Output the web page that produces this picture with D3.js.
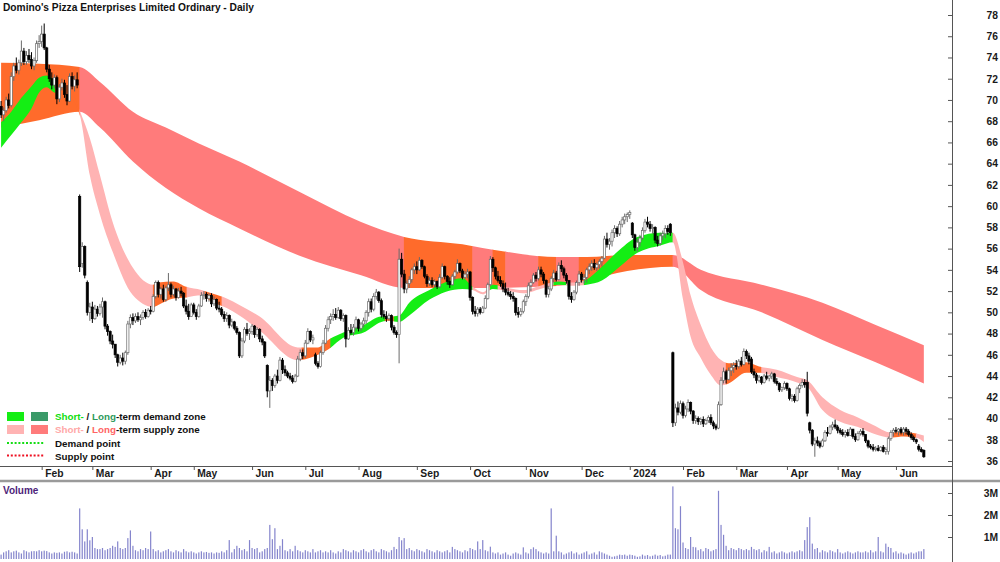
<!DOCTYPE html>
<html><head><meta charset="utf-8">
<script src="https://cdn.jsdelivr.net/npm/d3@7"></script>
<style>body{margin:0;background:#fff}svg{display:block;font-family:"Liberation Sans",Arial,sans-serif}</style>
</head><body><svg id="c" width="1000" height="562"></svg>
<script>
const titleText = "Domino's Pizza Enterprises Limited Ordinary - Daily";
const startDate = "2023-01-09";
const holidays = ["2023-01-26","2023-04-07","2023-04-10","2023-04-25","2023-06-12","2023-12-25","2023-12-26","2024-01-01","2024-01-26","2024-03-29","2024-04-01","2024-04-25","2024-06-10"];
const monthNames = ["Jan","Feb","Mar","Apr","May","Jun","Jul","Aug","Sep","Oct","Nov","Dec"];
const priceTicks = [36,38,40,42,44,46,48,50,52,54,56,58,60,62,64,66,68,70,72,74,76,78];
const volumeTicks = [1,2,3];
// [open, high, low, close]
const ohlc = [
[69.4,69.9,68.3,68.6],[68.6,69.3,68.0,69.0],[69.0,70.3,68.8,70.0],[70.0,70.6,69.2,69.5],[69.5,72.6,69.3,72.2],
[72.2,73.5,71.8,73.2],[73.2,74.0,72.5,72.8],[72.8,73.8,72.4,73.5],[73.5,75.6,73.2,74.6],[74.6,74.9,73.3,73.6],
[73.6,74.6,73.3,74.2],[74.2,74.8,73.5,73.8],[73.8,74.5,72.9,73.2],[73.2,74.0,72.8,73.7],[73.7,75.6,73.5,75.3],
[75.3,76.1,74.9,75.5],[75.5,77.0,75.0,76.2],[76.2,77.2,74.7,74.9],[74.9,75.0,72.6,72.9],[72.9,73.3,71.7,72.0],
[72.0,72.6,71.0,71.4],[71.4,72.4,71.1,72.1],[72.1,72.3,69.6,70.1],[70.1,71.5,69.8,71.2],[71.2,72.0,70.9,71.6],
[71.6,71.9,70.2,70.5],[70.5,71.4,69.5,69.9],[69.9,72.5,69.8,72.2],[72.2,72.6,71.0,71.3],[71.3,72.3,70.8,71.9],
[71.9,72.6,71.1,71.4],[60.9,61.1,53.8,54.3],[54.6,56.6,54.2,56.2],[56.2,56.3,53.2,53.5],[52.8,53.0,49.7,50.0],
[50.0,50.9,49.2,50.5],[50.5,51.0,49.0,49.4],[49.4,50.7,49.3,50.3],[50.3,50.6,49.6,49.9],[49.9,50.8,49.7,50.5],
[50.5,51.4,49.5,51.0],[51.0,51.1,48.4,48.7],[48.7,48.9,47.8,48.2],[48.2,48.3,47.0,47.3],[47.3,47.9,46.6,47.0],
[47.0,47.0,45.7,46.0],[46.0,46.1,44.9,45.3],[45.3,46.0,45.1,45.7],[45.7,46.2,45.0,45.4],[45.4,46.4,45.1,46.2],
[46.2,49.2,46.0,48.9],[48.9,49.8,48.5,49.5],[49.5,49.9,48.8,49.2],[49.2,49.9,49.0,49.6],[49.6,50.0,49.1,49.3],
[49.3,49.8,48.8,49.5],[49.5,50.2,49.3,50.0],[50.0,50.3,49.4,49.6],[49.6,50.4,49.5,50.2],[50.2,50.6,49.8,50.1],
[50.1,51.7,50.0,51.5],[51.5,53.0,51.3,52.8],[52.8,53.0,51.4,51.7],[51.7,52.4,51.3,52.2],[52.2,52.6,51.0,51.2],
[51.2,52.5,51.0,52.3],[52.3,53.7,52.0,52.6],[52.6,52.8,51.4,51.7],[51.7,52.5,51.5,52.2],[52.2,52.3,51.1,51.4],
[51.4,52.3,51.3,52.0],[52.0,52.4,51.5,51.8],[51.8,51.9,50.4,50.6],[50.6,51.2,49.8,50.1],[50.1,50.8,49.3,49.6],
[49.6,50.9,49.6,50.7],[50.7,50.9,49.8,50.0],[50.0,50.3,49.3,49.6],[49.6,50.8,49.5,50.6],[50.6,51.9,50.5,51.6],
[51.6,52.0,51.2,51.7],[51.7,51.9,51.0,51.3],[51.3,51.8,51.0,51.6],[51.6,51.8,50.5,50.8],[50.8,51.5,50.6,51.2],
[51.2,51.3,50.2,50.4],[50.4,51.0,50.0,50.3],[50.3,50.5,49.6,49.8],[49.8,50.1,49.1,49.4],[49.4,50.0,49.1,49.7],
[49.7,49.8,48.5,48.8],[48.8,49.4,48.6,49.1],[49.1,49.2,48.3,48.5],[48.5,48.7,47.9,48.1],[48.1,48.2,45.7,45.9],
[45.9,47.6,45.7,47.3],[47.3,48.6,47.1,48.4],[48.4,49.0,47.8,48.0],[48.0,48.5,47.4,48.2],[48.2,48.9,47.9,48.7],
[48.7,48.8,47.6,47.9],[47.9,48.6,47.7,48.4],[48.4,48.5,47.2,47.5],[47.5,47.8,46.9,47.2],[47.2,47.3,45.7,45.9],
[45.0,45.1,42.0,42.6],[42.6,44.0,41.0,43.6],[43.6,43.8,42.6,43.1],[43.1,44.2,42.9,44.0],[44.0,44.6,43.3,43.6],
[43.6,45.8,43.5,45.5],[45.5,45.7,44.2,44.6],[44.6,45.0,44.0,44.3],[44.3,44.5,43.8,44.0],[44.0,44.3,43.6,43.8],
[43.8,44.1,43.3,43.5],[43.5,44.2,43.4,44.0],[44.0,45.9,43.9,45.6],[45.6,46.5,45.4,46.2],[46.2,46.5,45.6,45.9],
[45.9,47.4,45.7,47.1],[47.1,48.5,47.0,48.2],[48.2,48.3,47.2,47.4],[47.4,47.9,47.0,47.6],[46.0,46.2,45.0,45.2],
[45.2,45.4,44.7,44.9],[44.9,46.4,44.8,46.2],[46.2,47.4,46.0,47.1],[47.1,48.8,47.0,48.5],[48.5,49.6,48.2,49.3],
[49.3,49.9,48.9,49.6],[49.6,50.3,49.2,49.8],[49.8,50.4,49.3,49.5],[49.5,50.5,49.4,50.2],[50.2,50.3,49.2,49.4],
[49.4,49.9,49.1,49.7],[49.7,49.8,46.7,47.5],[47.5,48.6,47.4,48.3],[48.3,48.9,47.9,48.1],[48.1,48.9,47.8,48.6],
[48.6,49.6,48.3,49.3],[49.3,49.4,48.2,48.5],[48.5,49.1,48.2,48.9],[48.9,49.5,48.6,49.2],[49.2,50.2,48.9,50.0],
[50.0,51.3,49.6,51.0],[51.0,51.3,50.0,50.3],[50.3,51.8,50.1,51.5],[51.5,52.2,51.2,51.9],[51.9,52.0,50.9,51.1],
[51.1,51.3,49.5,49.8],[49.8,50.2,49.4,49.6],[49.6,50.1,49.1,49.4],[49.4,49.9,49.2,49.7],[49.7,49.8,48.3,48.6],
[48.6,48.8,47.9,48.1],[48.1,48.3,47.6,47.9],[47.9,56.0,45.2,55.0],[55.0,55.6,53.3,53.6],[53.6,54.0,51.8,52.2],
[52.2,53.0,51.8,52.7],[52.7,53.4,52.3,53.1],[53.1,54.2,52.8,54.0],[54.0,54.6,53.6,54.3],[54.3,54.8,53.6,54.0],
[54.0,55.2,53.9,54.9],[54.9,55.0,54.1,54.3],[54.3,54.4,53.2,53.4],[53.4,53.6,52.4,52.7],[52.7,53.3,52.5,53.0],
[53.0,53.3,52.4,52.6],[52.6,53.1,52.3,52.9],[52.9,53.0,52.2,52.4],[52.4,53.6,52.3,53.3],[53.3,54.6,53.1,54.3],
[54.3,54.4,53.1,53.4],[53.4,53.5,52.6,52.9],[52.9,53.3,52.3,52.6],[52.6,53.6,52.5,53.4],[53.4,54.0,53.0,53.8],
[53.8,55.0,53.6,54.6],[54.6,54.7,53.7,53.9],[53.9,54.1,53.1,53.3],[53.3,53.9,53.1,53.6],[53.6,54.1,53.2,53.8],
[53.8,53.9,51.1,51.4],[51.4,51.5,49.8,50.1],[50.1,50.6,49.6,49.9],[49.9,50.5,49.6,50.3],[50.3,50.5,49.8,50.0],
[50.0,50.6,49.9,50.4],[50.4,51.6,50.3,51.3],[51.3,52.8,51.2,52.6],[52.6,55.3,52.5,55.0],[55.0,55.2,53.8,54.2],
[54.2,54.3,53.1,53.4],[53.4,53.9,52.8,53.0],[53.0,53.4,52.4,52.7],[52.7,53.0,51.9,52.2],[52.2,52.8,51.6,51.9],
[51.9,52.3,51.5,51.7],[51.7,52.0,51.2,51.5],[51.5,51.9,51.0,51.3],[51.3,51.4,49.7,50.0],[50.0,50.5,49.5,49.8],
[49.8,50.4,49.6,50.1],[50.1,51.2,49.9,51.0],[51.0,51.7,50.6,51.5],[51.5,52.8,51.3,52.5],[52.5,53.1,52.0,52.8],
[52.8,53.7,52.7,53.5],[53.5,53.8,52.9,53.2],[53.2,54.3,53.0,54.0],[54.0,54.3,53.3,53.6],[53.6,53.8,52.7,53.0],
[53.0,53.1,51.4,51.7],[51.7,52.5,51.4,52.2],[52.2,53.4,52.0,53.2],[53.2,54.0,52.8,53.7],[53.7,53.9,52.9,53.1],
[53.1,54.7,53.0,54.4],[54.4,54.9,53.8,54.1],[54.1,54.3,53.2,53.5],[53.5,53.7,52.7,53.0],[53.0,53.0,51.2,51.5],
[51.5,51.9,50.9,51.2],[51.2,52.1,51.1,51.9],[51.9,53.0,51.7,52.8],[52.8,53.9,52.5,53.6],[53.6,53.8,52.8,53.1],
[53.1,53.6,52.7,53.3],[53.3,54.2,52.8,54.0],[54.0,54.6,53.6,54.3],[54.3,54.9,53.9,54.6],[54.6,55.0,54.0,54.2],
[54.2,54.7,53.9,54.5],[54.5,55.0,54.1,54.8],[54.8,55.3,54.3,55.1],[55.1,57.2,55.0,56.9],[56.9,57.5,56.1,56.4],
[56.4,57.0,55.9,56.7],[56.7,57.8,56.2,57.5],[57.5,58.2,57.0,57.9],[57.9,58.1,57.1,57.4],[57.4,58.6,57.2,58.3],
[58.3,59.0,58.0,58.7],[58.7,59.3,58.3,59.0],[59.0,59.4,58.5,59.2],[59.2,59.6,58.8,59.4],[58.4,58.5,57.0,57.3],
[57.3,57.4,55.8,56.1],[56.1,56.9,55.7,56.6],[56.6,57.3,56.2,57.0],[57.0,58.0,56.8,57.7],[57.7,58.8,57.5,58.5],
[58.5,59.0,58.0,58.3],[58.3,58.6,57.6,57.9],[57.9,58.3,57.4,58.0],[58.0,58.1,56.5,56.8],[56.8,57.2,56.2,56.5],
[56.5,57.5,56.3,57.2],[57.2,57.7,56.8,57.4],[57.4,58.2,57.0,57.9],[57.9,58.2,57.3,57.6],[58.3,58.4,57.2,57.5],
[46.2,46.3,39.2,39.6],[39.6,41.4,39.3,41.0],[41.0,41.6,40.3,40.6],[40.6,41.7,40.4,41.4],[41.4,41.6,40.0,40.3],
[40.3,41.2,40.1,40.9],[40.9,41.8,40.6,41.5],[41.5,41.6,40.4,40.7],[40.7,40.8,39.5,39.8],[39.8,40.3,39.5,40.0],
[40.0,40.2,39.4,39.7],[39.7,40.1,39.4,39.9],[39.9,40.2,39.2,39.5],[39.5,40.0,39.4,39.8],[39.8,40.3,39.6,40.1],
[40.1,40.4,39.4,39.6],[39.6,39.8,39.0,39.3],[39.3,39.5,38.9,39.1],[39.1,41.6,39.0,41.3],[41.3,43.9,41.2,43.6],
[43.6,44.8,43.3,44.4],[44.4,44.6,43.3,43.7],[43.7,44.8,43.6,44.5],[44.5,45.2,44.0,44.8],[44.8,45.3,44.3,45.0],
[45.0,45.5,44.6,44.9],[44.9,45.6,44.7,45.4],[45.4,45.8,44.9,45.1],[45.1,46.6,45.0,46.3],[46.3,46.5,45.6,45.9],
[45.9,46.2,45.1,45.4],[45.6,45.8,44.2,44.4],[44.4,44.7,43.8,44.1],[44.1,44.3,43.3,43.6],[43.6,44.1,43.4,43.9],
[43.9,44.0,43.2,43.4],[43.4,44.2,43.3,44.0],[44.0,44.4,43.6,43.8],[43.8,44.1,43.5,44.0],[44.0,44.4,43.7,44.2],
[44.2,44.3,43.3,43.5],[43.5,43.8,43.1,43.3],[43.3,43.4,42.5,42.7],[42.7,43.0,42.5,42.9],[42.9,43.5,42.7,43.3],
[43.3,43.4,42.6,42.8],[42.8,42.9,41.7,41.9],[41.9,42.3,41.6,42.1],[42.1,42.3,41.5,41.7],[41.7,43.0,41.6,42.8],
[42.8,43.3,42.4,43.1],[43.1,43.7,42.9,43.4],[43.4,43.7,42.9,43.2],[43.4,44.4,40.2,40.5],[39.6,39.7,38.6,38.9],
[38.9,39.0,37.4,37.6],[37.6,38.2,36.4,37.9],[37.9,38.3,37.4,37.7],[37.7,37.9,37.2,37.4],[37.4,38.1,37.3,37.9],
[37.9,38.9,37.8,38.7],[38.7,39.2,38.3,38.6],[38.6,39.4,38.5,39.2],[39.2,39.7,38.9,39.4],[39.4,39.9,39.0,39.2],
[39.2,39.4,38.6,38.9],[38.9,39.1,38.5,38.7],[38.7,39.0,38.3,38.5],[38.5,38.9,38.2,38.7],[38.7,39.0,38.3,38.4],
[38.4,39.2,38.4,39.0],[39.0,39.0,38.1,38.3],[38.3,38.6,37.8,38.0],[38.0,38.8,37.9,38.6],[38.6,39.0,38.4,38.8],
[38.8,39.1,38.3,38.5],[38.5,38.5,37.7,37.9],[37.9,38.0,37.2,37.4],[37.4,37.6,37.1,37.3],[37.3,37.6,36.9,37.1],
[37.1,37.4,36.9,37.2],[37.2,37.5,36.9,37.0],[37.0,37.4,36.9,37.3],[37.3,37.5,36.8,36.9],[36.9,37.3,36.6,37.1],
[36.9,38.3,36.6,38.1],[38.1,38.9,37.9,38.7],[38.7,39.1,38.3,38.9],[38.9,39.2,38.6,38.8],[38.8,39.1,38.4,39.0],
[39.0,39.2,38.5,38.7],[38.7,39.2,38.4,39.0],[39.0,39.2,38.5,38.8],[38.8,39.0,38.3,38.5],[38.5,38.7,38.0,38.2],
[38.2,38.4,37.8,38.0],[38.0,38.1,37.6,37.8],[37.4,37.6,36.9,37.1],[37.1,37.3,36.8,36.9],[37.0,37.1,36.3,36.4]
];
// millions of shares
const volume = [
0.2,0.3,0.35,0.4,0.3,0.35,0.38,0.3,0.25,0.4, 0.35,0.3,0.35,0.36,0.35,0.4,0.35,0.38,0.36,0.3,
0.25,0.3,0.28,0.3,0.25,0.33,0.35,0.3,0.33,0.3, 0.25,2.3,1.35,0.8,1.35,0.85,1.0,0.5,0.45,0.45,
0.5,0.4,0.45,0.5,0.6,0.55,0.8,0.5,0.45,0.5, 0.95,1.3,0.6,0.4,0.35,0.45,0.4,0.5,0.45,1.25,
0.45,0.35,0.4,0.3,0.35,0.4,0.45,0.35,0.3,0.4, 0.35,0.3,0.45,0.35,0.3,0.35,0.3,0.25,0.3,0.35,
0.3,0.32,0.28,0.3,0.25,0.3,0.28,0.35,0.3,0.4, 0.86,0.3,0.45,0.6,0.5,0.4,0.45,0.35,0.86,0.5,
0.45,0.5,0.3,0.35,0.45,0.5,1.55,0.9,1.4,0.45, 0.6,0.9,0.4,0.35,0.45,0.35,0.6,0.4,0.35,0.3,
0.4,0.35,0.3,0.45,0.3,0.35,0.4,0.3,0.35,0.3, 0.4,0.3,0.25,0.35,0.3,0.45,0.4,0.35,0.3,0.4,
0.35,0.3,0.4,0.45,0.35,0.3,0.4,0.45,0.35,0.3, 0.45,0.4,0.35,0.3,0.4,0.55,0.45,1.0,0.85,0.95,
0.45,0.5,0.4,0.35,0.45,0.4,0.35,0.3,0.45,0.4, 0.35,0.3,0.4,0.35,0.3,0.35,0.4,0.3,0.55,0.45,
0.4,0.35,0.3,0.4,0.35,0.5,0.45,0.4,0.8,0.45, 0.86,0.4,0.35,0.56,0.3,0.25,0.3,0.2,0.25,0.3,
0.2,0.15,0.25,0.3,0.25,0.2,0.53,0.3,0.25,0.45, 0.53,0.45,0.35,0.3,0.25,0.3,0.25,2.3,0.35,1.06,
0.35,0.3,0.2,0.25,0.3,0.35,0.25,0.3,0.2,0.25, 0.3,0.35,0.2,0.25,0.3,0.2,0.35,0.3,0.25,0.2,
0.15,0.1,0.12,0.15,0.2,0.18,0.2,0.15,0.2,0.18, 0.15,0.1,0.12,0.2,0.15,0.18,0.12,0.15,0.2,0.15,
0.18,0.12,0.15,0.2,0.2,3.3,1.4,1.35,2.4,0.75, 0.5,0.45,1.0,0.55,0.53,0.4,0.45,0.35,0.5,0.45,
0.35,0.4,0.45,3.1,1.55,1.1,0.6,0.4,0.5,0.45, 0.4,0.5,0.45,0.4,0.45,0.4,0.55,0.45,0.4,0.45,
0.3,0.4,0.35,0.55,0.3,0.35,0.25,0.3,0.35,0.3, 0.25,0.3,0.35,0.3,0.35,0.4,0.35,0.86,1.45,1.9,
0.7,0.45,0.5,0.3,0.4,0.35,0.3,0.4,0.35,0.3, 0.45,0.3,0.25,0.3,0.35,0.3,0.25,0.3,0.35,0.3,
0.3,0.35,0.3,0.4,0.3,0.35,1.0,0.35,0.3,0.7, 0.55,0.5,0.3,0.35,0.25,0.3,0.25,0.2,0.25,0.3,
0.25,0.3,0.35,0.35,0.45
];
// long-term zone: [bar index, upper, lower]
const longBand = [
[0,73.5,67.4],[15,73.4,68.1],[31,73.1,68.9],[39,71.7,67.4],[52,68.9,64.2],[65,67.4,61.7],[78,65.9,59.8],
[94,64.2,57.9],[118,61.3,55.3],[142,58.5,53.5],[159,57.1,52.3],[182,56.4,52.3],[194,55.9,52.3],[220,55.2,52.5],
[231,55.2,53.0],[247,55.4,53.9],[265,55.4,54.3],[276,54.0,52.1],[300,52.6,50.0],[324,50.9,47.4],[345,48.8,45.3],[364,46.9,43.3]
];
// short-term zone: [bar index, upper, lower]
const shortBand = [
[0,67.9,65.5],[4,68.9,66.7],[8,70.2,67.9],[12,71.3,69.2],[15,72.1,70.7],[18,72.3,71.2],[21,71.9,70.7],[26,71.7,70.5],
[31,69.0,68.6],[35,66.4,62.9],[39,62.9,59.2],[44,58.5,55.7],[52,54.2,51.6],[60,52.6,50.5],[62,52.8,50.7],[68,52.9,51.3],
[73,52.4,51.4],[79,52.1,51.6],[83,51.8,51.0],[89,51.3,50.4],[94,50.7,49.7],[102,49.6,48.3],[117,46.7,45.5],[125,46.7,46.0],
[129,47.4,46.5],[135,48.1,47.6],[143,48.8,48.1],[150,49.6,49.1],[153,49.6,49.2],[157,49.7,49.1],[161,50.9,49.7],[169,52.1,51.2],
[182,53.2,52.2],[186,52.4,52.1],[190,51.9,51.7],[194,52.6,52.2],[200,52.3,52.0],[206,52.1,51.8],[214,52.6,52.3],[220,52.9,52.6],
[226,52.8,52.5],[231,53.1,52.6],[237,54.3,53.0],[244,55.9,54.3],[251,57.1,55.6],[260,57.5,56.3],[265,57.5,56.6],[269,54.7,51.2],
[272,51.6,47.7],[276,48.8,45.7],[280,46.7,44.1],[284,45.5,43.1],[287,45.2,43.3],[294,45.3,44.3],[299,44.9,44.3],[306,44.6,43.9],
[314,43.9,43.4],[318,43.6,43.0],[324,42.0,40.8],[331,40.8,39.7],[338,40.1,39.2],[344,39.4,38.6],[351,38.7,38.2],[356,38.7,38.3],
[361,38.6,38.2],[364,38.4,37.8]
];
// zone colouring: [from index, to index, state]
const longZones = [[-1,31,"o"],[31,159,"r"],[159,186,"o"],[186,194,"r"],[194,199,"o"],[199,212,"r"],[212,219,"o"],[219,228,"r"],[228,265,"o"],[265,365,"r"]];
const shortZones = [[-1,21.5,"g"],[21.5,31,"o"],[31,60,"p"],[60,73.3,"o"],[73.3,80.4,"p"],[80.4,87.1,"o"],[87.1,118.7,"p"],[118.7,130,"o"],
[130,151.5,"g"],[151.5,155,"o"],[155,186,"g"],[186,193,"p"],[193,196,"g"],[196,218,"p"],[218,223,"g"],[223,230,"p"],[230,265,"g"],
[265,286,"p"],[286,300,"o"],[300,352,"p"],[352,361,"o"],[361,365,"p"]];

const colors = {g:"#14EE14", dg:"#3A9A68", o:"#FF6B2B", r:"#FF7B7B", p:"#FFB3B3"};

const svg = d3.select("#c");
const defs = svg.append("defs");
const N = ohlc.length;
const AXX = 952, PB = 466;

// trading dates
const hol = new Set(holidays);
const dates = [];
let cur = new Date(startDate + "T00:00:00Z");
while (dates.length < N) {
  const dw = cur.getUTCDay(), s = cur.toISOString().slice(0,10);
  if (dw !== 0 && dw !== 6 && !hol.has(s)) dates.push(new Date(cur));
  cur.setUTCDate(cur.getUTCDate() + 1);
}
const monthStarts = [];
dates.forEach((d,i)=>{ if (i>0 && d.getUTCMonth() !== dates[i-1].getUTCMonth()) monthStarts.push(i); });

const x = d3.scaleLinear().domain([0, N-1]).range([1.1, 1.1 + (N-1)*2.535]);
const y = d3.scaleLinear().domain([36, 78]).range([461, 15]);
const yv = d3.scaleLinear().domain([0, 3]).range([559, 493]);

defs.append("clipPath").attr("id","pc").append("rect").attr("x",0).attr("y",0).attr("width",AXX).attr("height",PB);

const gPrice = svg.append("g").attr("clip-path","url(#pc)");

function drawBand(band, zones, name) {
  const area = d3.area().x(d=>x(d[0])).y0(d=>y(d[2])).y1(d=>y(d[1])).curve(d3.curveMonotoneX);
  const p = area(band);
  const g = gPrice.append("g");
  zones.forEach((z,k)=>{
    const id = name + k;
    defs.append("clipPath").attr("id", id).append("rect")
      .attr("x", x(z[0]) - 0.3).attr("y", 0).attr("width", x(z[1]) - x(z[0]) + 0.6).attr("height", PB);
    g.append("path").attr("d", p).attr("fill", colors[z[2]]).attr("clip-path", `url(#${id})`);
  });
}
drawBand(longBand, longZones, "lz");
drawBand(shortBand, shortZones, "sz");

// candles
const gC = gPrice.append("g");
ohlc.forEach((b,i)=>{
  const [o,h,l,c] = b, up = c >= o;
  const col = up ? "#6a6a6a" : "#000";
  gC.append("line").attr("x1",x(i)).attr("x2",x(i)).attr("y1",y(h)).attr("y2",y(l)).attr("stroke",col).attr("stroke-width",1);
  const top = y(Math.max(o,c)), hgt = Math.max(1, Math.abs(y(o)-y(c)));
  gC.append("rect").attr("x",x(i)-1.1).attr("y",top).attr("width",2.2).attr("height",hgt)
    .attr("fill", up ? "#fff" : "#000").attr("stroke", col).attr("stroke-width",0.7);
});

// volume
svg.append("g").selectAll("rect").data(volume).join("rect")
  .attr("x",(d,i)=>x(i)-0.6).attr("width",1.2).attr("y",d=>yv(d)).attr("height",d=>559-yv(d)).attr("fill","#8484CC");

// frame lines
svg.append("line").attr("x1",0).attr("x2",AXX).attr("y1",PB+0.5).attr("y2",PB+0.5).attr("stroke","#555");
svg.append("line").attr("x1",0).attr("x2",1000).attr("y1",481).attr("y2",481).attr("stroke","#9a9a9a").attr("stroke-width",2.5);
svg.append("line").attr("x1",AXX+0.5).attr("x2",AXX+0.5).attr("y1",0).attr("y2",562).attr("stroke","#555");

// x axis
const gx = svg.append("g").attr("transform",`translate(0,${PB})`)
  .call(d3.axisBottom(x).tickValues(monthStarts)
    .tickFormat(i => dates[i].getUTCMonth()===0 ? String(dates[i].getUTCFullYear()) : monthNames[dates[i].getUTCMonth()])
    .tickSizeInner(4).tickSizeOuter(0));
gx.select(".domain").remove();
gx.selectAll(".tick line").attr("stroke","#555");
gx.selectAll(".tick text").attr("text-anchor","start").attr("x",3).attr("y",11).attr("dy","0")
  .attr("font-family","Liberation Sans, Arial, sans-serif").attr("font-size",10.3).attr("font-weight","bold").attr("fill","#1a1a1a");

// price axis
const gy = svg.append("g").attr("transform",`translate(${AXX},0)`)
  .call(d3.axisRight(y).tickValues(priceTicks).tickFormat(d3.format("d")).tickSizeInner(-4).tickSizeOuter(0));
gy.select(".domain").remove();
gy.selectAll(".tick line").attr("stroke","#555");
gy.selectAll(".tick text").attr("x",46).attr("text-anchor","end")
  .attr("font-family","Liberation Sans, Arial, sans-serif").attr("font-size",10.3).attr("font-weight","bold").attr("fill","#1a1a1a");

const gvy = svg.append("g").attr("transform",`translate(${AXX},0)`)
  .call(d3.axisRight(yv).tickValues(volumeTicks).tickFormat(d=>d+"M").tickSizeInner(-4).tickSizeOuter(0));
gvy.select(".domain").remove();
gvy.selectAll(".tick line").attr("stroke","#555");
gvy.selectAll(".tick text").attr("x",46).attr("text-anchor","end")
  .attr("font-family","Liberation Sans, Arial, sans-serif").attr("font-size",10.3).attr("font-weight","bold").attr("fill","#1a1a1a");

// title & volume label
svg.append("text").attr("x",3).attr("y",11).attr("font-size",10.2).attr("font-weight","bold").attr("fill","#111").text(titleText);
svg.append("text").attr("x",3).attr("y",494).attr("font-size",10).attr("font-weight","bold").attr("fill","#4e1f7a").text("Volume");

// legend
const lg = svg.append("g").attr("font-size",9.8).attr("font-weight","bold");
lg.append("rect").attr("x",7).attr("y",412).attr("width",17).attr("height",9).attr("fill",colors.g);
lg.append("rect").attr("x",31).attr("y",412).attr("width",17).attr("height",9).attr("fill",colors.dg);
lg.append("rect").attr("x",7).attr("y",425).attr("width",17).attr("height",9).attr("fill",colors.p);
lg.append("rect").attr("x",31).attr("y",425).attr("width",17).attr("height",9).attr("fill",colors.r);
lg.append("line").attr("x1",7).attr("x2",45).attr("y1",443).attr("y2",443).attr("stroke","#14DD14").attr("stroke-width",2).attr("stroke-dasharray","2,1.8");
lg.append("line").attr("x1",7).attr("x2",45).attr("y1",455.5).attr("y2",455.5).attr("stroke","#EE1122").attr("stroke-width",2).attr("stroke-dasharray","2,1.8");
function legendRow(yy, parts){
  const t = lg.append("text").attr("x",55).attr("y",yy);
  parts.forEach(p=>t.append("tspan").attr("fill",p[1]).text(p[0]));
}
legendRow(420,[["Short-","#10DD10"],[" / ","#111"],["Long","#2E9A5C"],["-term demand zone","#111"]]);
legendRow(433,[["Short-","#FFA8A8"],[" / ","#111"],["Long","#FF6464"],["-term supply zone","#111"]]);
legendRow(447,[["Demand point","#111"]]);
legendRow(459.5,[["Supply point","#111"]]);
</script></body></html>
